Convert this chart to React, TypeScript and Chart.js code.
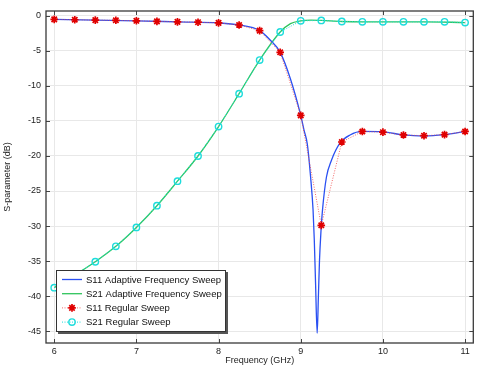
import React, { useEffect, useRef } from 'react';
import { Chart, registerables } from 'chart.js';

Chart.register(...registerables);

// ---------- data ----------
const regularFreq = [6, 6.25, 6.5, 6.75, 7, 7.25, 7.5, 7.75, 8, 8.25, 8.5, 8.75, 9, 9.25, 9.5, 9.75, 10, 10.25, 10.5, 10.75, 11];
const s11Regular = [-0.5, -0.55, -0.6, -0.63, -0.7, -0.78, -0.85, -0.9, -1.0, -1.3, -2.1, -5.2, -14.2, -29.9, -18.0, -16.5, -16.6, -17.0, -17.1, -16.95, -16.5];
const s21Regular = [-38.8, -37.0, -35.1, -32.9, -30.2, -27.1, -23.6, -20.0, -15.8, -11.1, -6.3, -2.3, -0.7, -0.65, -0.8, -0.85, -0.85, -0.85, -0.85, -0.85, -0.95];

const s11AdaptiveFreq = [6, 6.5, 7, 7.5, 8, 8.25, 8.5, 8.625, 8.75, 8.875, 9.0, 9.04, 9.08, 9.12, 9.15, 9.165, 9.18, 9.2, 9.215, 9.228, 9.245, 9.265, 9.313, 9.374, 9.475, 9.6, 9.75, 10, 10.25, 10.5, 10.75, 11];
const s11Adaptive = [-0.5, -0.6, -0.7, -0.85, -1.0, -1.3, -2.1, -3.4, -5.2, -9.0, -14.2, -16.3, -18.3, -23.0, -27.7, -32.0, -38.0, -45.3, -40.0, -35.0, -31.0, -27.7, -23.0, -20.6, -18.2, -17.0, -16.5, -16.55, -17.0, -17.15, -16.95, -16.5];

const s21AdaptiveFreq = [6, 6.25, 6.5, 6.75, 7, 7.25, 7.5, 7.75, 8, 8.25, 8.5, 8.75, 8.875, 9, 9.125, 9.25, 9.5, 9.75, 10, 10.5, 11];
const s21Adaptive = [-38.8, -37.0, -35.1, -32.9, -30.2, -27.1, -23.6, -20.0, -15.8, -11.1, -6.3, -2.3, -1.1, -0.7, -0.6, -0.65, -0.8, -0.85, -0.85, -0.85, -0.95];

const xTicks = [6, 7, 8, 9, 10, 11];
const yTicks = [0, -5, -10, -15, -20, -25, -30, -35, -40, -45];

const legendLabels = [
  'S11 Adaptive Frequency Sweep',
  'S21 Adaptive Frequency Sweep',
  'S11 Regular Sweep',
  'S21 Regular Sweep',
];

const xTitle = 'Frequency (GHz)';
const yTitle = 'S-parameter (dB)';

// ---------- styles ----------
const BLUE = '#2a50f2';
const GREEN = '#2fc45c';
const RED = '#e00000';
const RED_LINE = 'rgba(240,70,70,0.8)';
const CYAN = '#1ddcdc';
const FONT = "'Liberation Sans', Arial, sans-serif";

const toXY = (xs: number[], ys: number[]) => xs.map((x, i) => ({ x, y: ys[i] }));

function drawStar(ctx: CanvasRenderingContext2D, x: number, y: number, r: number) {
  ctx.beginPath();
  for (let k = 0; k < 4; k++) {
    const a = (k * Math.PI) / 4;
    ctx.moveTo(x - r * Math.cos(a), y - r * Math.sin(a));
    ctx.lineTo(x + r * Math.cos(a), y + r * Math.sin(a));
  }
  ctx.stroke();
}

const framePlugin = {
  id: 'frameAndLegend',
  afterDraw(chart: any) {
    const { ctx, chartArea: a, scales } = chart;
    ctx.save();
    // inward tick marks
    ctx.strokeStyle = '#444';
    ctx.lineWidth = 1;
    ctx.beginPath();
    for (const v of xTicks) {
      const px = Math.round(scales.x.getPixelForValue(v)) + 0.5;
      ctx.moveTo(px, a.top);
      ctx.lineTo(px, a.top + 4);
      ctx.moveTo(px, a.bottom);
      ctx.lineTo(px, a.bottom - 4);
    }
    for (const v of yTicks) {
      const py = Math.round(scales.y.getPixelForValue(v)) + 0.5;
      ctx.moveTo(a.left, py);
      ctx.lineTo(a.left + 4, py);
      ctx.moveTo(a.right, py);
      ctx.lineTo(a.right - 4, py);
    }
    ctx.stroke();
    // frame
    ctx.strokeStyle = '#3a3a3a';
    ctx.lineWidth = 1.3;
    ctx.strokeRect(a.left, a.top, a.right - a.left, a.bottom - a.top);

    // legend box
    const bx = a.left + 10;
    const bw = 170;
    const bh = 62;
    const by = a.bottom - 11 - bh;
    ctx.fillStyle = '#555';
    ctx.fillRect(bx + 2, by + 2, bw, bh);
    ctx.fillStyle = '#fff';
    ctx.fillRect(bx, by, bw, bh);
    ctx.strokeStyle = '#333';
    ctx.lineWidth = 1;
    ctx.strokeRect(bx + 0.5, by + 0.5, bw - 1, bh - 1);

    const rowY0 = by + 9.5;
    const rowStep = 14.2;
    const lx0 = bx + 6;
    const lx1 = bx + 26;
    ctx.font = `9.5px ${FONT}`;
    ctx.textBaseline = 'middle';
    ctx.textAlign = 'left';
    legendLabels.forEach((label, i) => {
      const yy = rowY0 + i * rowStep;
      ctx.save();
      if (i === 0 || i === 1) {
        ctx.strokeStyle = i === 0 ? BLUE : GREEN;
        ctx.lineWidth = 1.3;
        ctx.beginPath();
        ctx.moveTo(lx0, yy);
        ctx.lineTo(lx1, yy);
        ctx.stroke();
      } else {
        ctx.strokeStyle = i === 2 ? RED_LINE : CYAN;
        ctx.lineWidth = 1;
        ctx.setLineDash([1, 1.5]);
        ctx.beginPath();
        ctx.moveTo(lx0, yy);
        ctx.lineTo(lx1, yy);
        ctx.stroke();
        ctx.setLineDash([]);
        const cx = (lx0 + lx1) / 2;
        if (i === 2) {
          ctx.strokeStyle = RED;
          ctx.lineWidth = 1.7;
          drawStar(ctx, cx, yy, 3.8);
        } else {
          ctx.strokeStyle = CYAN;
          ctx.lineWidth = 1.4;
          ctx.beginPath();
          ctx.arc(cx, yy, 3.2, 0, Math.PI * 2);
          ctx.stroke();
        }
      }
      ctx.restore();
      ctx.fillStyle = '#111';
      ctx.fillText(label, bx + 30, yy + 0.5);
    });
    ctx.restore();
  },
};

export default function App() {
  const ref = useRef<HTMLCanvasElement | null>(null);

  useEffect(() => {
    document.body.style.margin = '0';
    if (!ref.current) return;
    const chart = new Chart(ref.current, {
      type: 'line',
      data: {
        datasets: [
          {
            label: legendLabels[2],
            data: toXY(regularFreq, s11Regular),
            borderColor: RED_LINE,
            borderWidth: 1,
            borderDash: [1, 1.5],
            pointStyle: 'star',
            pointRadius: 3.8,
            pointBorderWidth: 1.7,
            pointBorderColor: RED,
            pointBackgroundColor: RED,
            tension: 0,
            order: 1,
          },
          {
            label: legendLabels[3],
            data: toXY(regularFreq, s21Regular),
            borderColor: CYAN,
            borderWidth: 1,
            borderDash: [1, 1.5],
            pointStyle: 'circle',
            pointRadius: 3.2,
            pointBorderWidth: 1.4,
            pointBorderColor: CYAN,
            pointBackgroundColor: 'rgba(255,255,255,0)',
            tension: 0,
            order: 2,
          },
          {
            label: legendLabels[0],
            data: toXY(s11AdaptiveFreq, s11Adaptive),
            borderColor: BLUE,
            borderWidth: 1.3,
            pointRadius: 0,
            cubicInterpolationMode: 'monotone',
            order: 3,
          },
          {
            label: legendLabels[1],
            data: toXY(s21AdaptiveFreq, s21Adaptive),
            borderColor: GREEN,
            borderWidth: 1.3,
            pointRadius: 0,
            cubicInterpolationMode: 'monotone',
            order: 4,
          },
        ],
      },
      options: {
        responsive: false,
        animation: false,
        layout: { padding: { left: 0, top: 11, right: 5, bottom: 0 } },
        plugins: {
          legend: { display: false },
          tooltip: { enabled: false },
        },
        scales: {
          x: {
            type: 'linear',
            min: 5.9,
            max: 11.1,
            afterFit: (s: any) => {
              s.height = 23;
            },
            afterBuildTicks: (s: any) => {
              s.ticks = xTicks.map((v) => ({ value: v }));
            },
            ticks: {
              autoSkip: false,
              maxRotation: 0,
              padding: 3,
              color: '#222',
              font: { family: FONT, size: 9 },
              callback: (v: any) => String(v),
            },
            grid: { color: '#e8e8e8', drawTicks: false },
            border: { display: false },
            title: {
              display: true,
              text: xTitle,
              color: '#222',
              font: { family: FONT, size: 9 },
              padding: 0,
            },
          },
          y: {
            type: 'linear',
            min: -46.7,
            max: 0.7,
            afterFit: (s: any) => {
              s.width = 46;
            },
            afterBuildTicks: (s: any) => {
              s.ticks = yTicks.map((v) => ({ value: v }));
            },
            ticks: {
              autoSkip: false,
              padding: 5,
              color: '#222',
              font: { family: FONT, size: 9 },
              callback: (v: any) => String(v),
            },
            grid: { color: '#e8e8e8', drawTicks: false },
            border: { display: false },
            title: {
              display: true,
              text: yTitle,
              color: '#222',
              font: { family: FONT, size: 9 },
              padding: 2,
            },
          },
        },
      },
      plugins: [framePlugin],
    });
    return () => chart.destroy();
  }, []);

  return (
    <div style={{ position: 'fixed', left: 0, top: 0, width: 479, height: 366, background: '#fff' }}>
      <canvas ref={ref} width={479} height={366} style={{ width: 479, height: 366, display: 'block' }} />
    </div>
  );
}
